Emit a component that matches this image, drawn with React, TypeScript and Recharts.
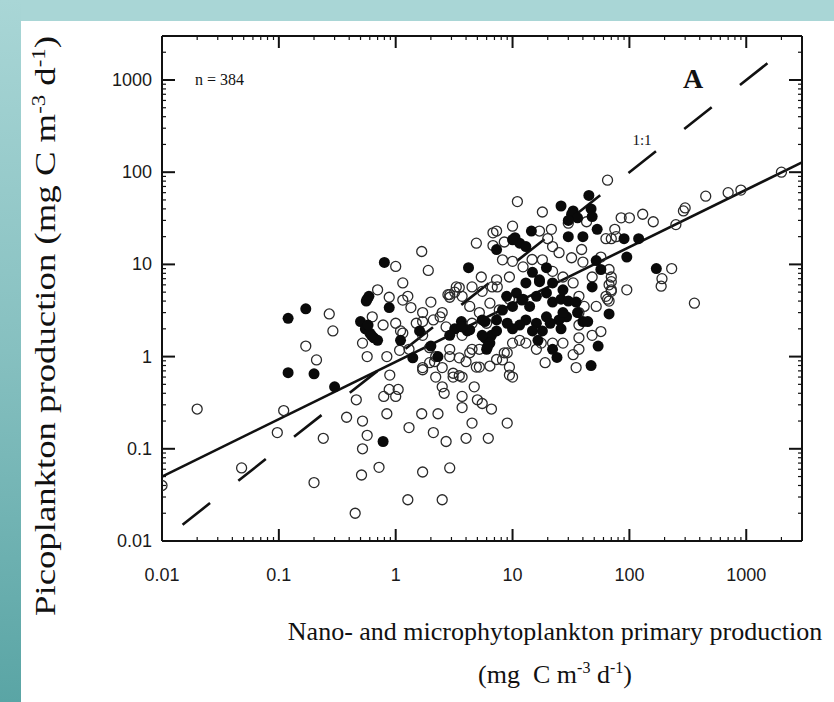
import React from 'react';
import { ScatterChart, Scatter, XAxis, YAxis, ReferenceLine } from 'recharts';

// ---- data ----
const majorTicks = [0.01, 0.1, 1, 10, 100, 1000];
const minorTicks = [
  0.02, 0.03, 0.04, 0.05, 0.06, 0.07, 0.08, 0.09,
  0.2, 0.3, 0.4, 0.5, 0.6, 0.7, 0.8, 0.9,
  2, 3, 4, 5, 6, 7, 8, 9,
  20, 30, 40, 50, 60, 70, 80, 90,
  200, 300, 400, 500, 600, 700, 800, 900,
  2000, 3000,
];
const axisDomain = [0.01, 3000];

// open circles: [nano+micro production, picoplankton production]
const openPoints: [number, number][] = [
  [0.01, 0.04], [0.02, 0.27], [0.048, 0.062], [0.097, 0.15], [0.11, 0.26], [0.17, 1.3], [0.21, 0.92],
  [0.2, 0.043], [0.24, 0.13], [0.27, 2.9], [0.29, 1.9], [0.45, 0.02], [0.46, 0.34], [0.38, 0.22],
  [0.52, 0.2], [0.57, 0.14], [0.52, 0.1], [0.51, 0.052], [0.72, 0.063], [0.84, 0.24], [0.88, 0.44],
  [1.05, 0.44], [0.79, 0.37], [0.89, 0.63], [1.3, 0.17], [1.67, 0.24], [2.3, 0.24], [2.1, 0.15],
  [2.7, 0.12], [1.7, 0.056], [2.9, 0.062], [1.27, 0.028], [2.5, 0.028], [0.7, 5.3], [1.15, 6.3],
  [1.67, 13.8], [1.9, 8.6], [1.0, 9.5], [1.15, 4.1], [1.35, 3.4], [2.0, 3.9], [2.8, 4.7], [0.63, 2.7],
  [0.78, 2.2], [1.15, 1.8], [1.7, 2.4], [2.4, 2.7], [0.52, 1.4], [0.57, 1.0], [0.84, 1.0], [1.08, 1.17],
  [1.95, 0.86], [2.2, 1.0], [2.5, 0.76], [1.7, 0.76], [2.2, 0.6], [2.5, 0.47], [2.6, 0.4], [3.1, 0.6],
  [1.0, 0.37], [4.0, 0.13], [4.7, 0.47], [3.7, 0.28], [4.5, 0.19], [5.5, 0.31], [5.2, 0.77], [3.5, 0.62],
  [3.5, 0.97], [4.3, 1.1], [5.2, 1.2], [2.9, 1.0], [2.9, 4.4], [3.2, 5.0], [3.5, 5.6], [5.4, 7.3],
  [65, 82], [11, 48], [18, 37], [43, 29], [85, 32], [100, 32], [130, 35], [160, 29], [300, 41], [290, 38],
  [360, 3.8], [230, 9], [190, 7], [187, 5.8], [95, 5.3], [67, 4], [57, 1.87], [35, 0.76], [33, 1.05],
  [19, 0.86], [70, 19], [75, 24], [21.5, 24], [17, 23], [10, 26], [7.3, 23], [4.9, 17], [6.8, 16],
  [8.5, 17.5], [7.3, 6.8], [9.4, 7.3], [10, 10.8], [14.7, 11.3], [18, 11.2], [25, 13.4], [22, 15.6],
  [32, 11.8], [39, 14.5], [40, 10.6], [57, 12], [48, 7.3], [67, 6.0], [70, 7.3], [67, 8.8], [70, 5.1],
  [0.88, 4.4], [1.27, 4.5], [1.7, 3.0], [2.5, 3.0], [1.5, 2.3], [2.1, 2.5], [2.7, 2.1], [1.1, 1.9],
  [1.7, 1.7], [1.95, 1.25], [1.3, 1.2], [2.9, 1.2], [2.15, 0.88], [1.7, 0.72], [3.1, 0.66], [4.5, 1.2],
  [4.0, 0.88], [4.9, 0.77], [6.4, 0.79], [8.2, 0.92], [8.5, 1.1], [9.4, 0.77], [11.5, 1.5], [13, 1.4],
  [16, 1.2], [3.7, 1.7], [4.3, 3.5], [5.2, 3.0], [6.4, 3.8], [7.7, 3.2], [5.5, 5.1], [4.5, 5.7],
  [3.7, 4.5], [3.3, 5.7], [2.9, 4.7], [7.4, 5.7], [9.4, 4.2], [12.3, 9.4], [22, 8.4], [27, 7.3],
  [33, 6.3], [37, 4.5], [41, 3.5], [52, 3.5], [63, 4.5], [27, 1.4], [37, 1.6], [37, 1.2], [48, 1.7],
  [22, 1.4], [17.6, 1.4], [10, 1.4], [6, 2.3], [4.5, 2.3], [1.0, 2.3], [70, 6.5], [70, 5.3], [65, 4.2],
  [37, 3.0], [37, 2.2], [9, 1.1], [7.3, 0.93], [9.4, 0.63], [10, 0.6], [3.7, 0.6], [3.7, 0.37], [5, 0.34],
  [6.6, 0.27], [9, 0.19], [6.2, 0.13], [450, 55], [700, 60], [900, 64], [2000, 100], [250, 27],
  [6.8, 22], [20, 19], [63, 19], [77, 20], [30, 28], [8.2, 11.2], [6.7, 5.7],
];

// filled circles
const filledPoints: [number, number][] = [
  [0.12, 2.6], [0.17, 3.3], [0.12, 0.67], [0.2, 0.65], [0.3, 0.47], [0.78, 0.12], [0.8, 10.5],
  [0.57, 4.2], [0.59, 4.5], [0.56, 4.0], [0.88, 3.4], [0.5, 2.4], [0.55, 2.0], [0.6, 1.8], [0.65, 1.6],
  [0.7, 1.5], [0.58, 2.2], [0.62, 1.7], [1.1, 1.5], [1.6, 1.9], [1.4, 0.97], [2.0, 1.3], [4.2, 9.2],
  [3.65, 2.4], [5.5, 2.5], [5.8, 1.6], [3.2, 2.0], [45, 56], [26, 43], [33, 38], [32, 35], [36, 32],
  [30, 30], [47, 40], [48, 33], [170, 9], [67, 2.9], [54, 1.3], [47, 0.8], [24, 0.98], [22, 1.2],
  [95, 12], [120, 19], [90, 19], [53, 24], [40, 20], [30, 20], [14.5, 23], [10.5, 19.5], [11.5, 17],
  [13, 15.6], [7.3, 14.5], [19.5, 9.2], [52, 11], [57, 8.8], [48, 5.7], [14.8, 8.2], [17, 6.5],
  [13, 6.3], [10.8, 4.9], [12.3, 4.2], [10, 3.5], [14, 3.5], [16, 4.5], [19.5, 4.9], [22, 3.9],
  [26, 4.2], [30, 4.0], [35, 3.9], [27, 5.3], [22, 6.3], [29, 2.7], [25, 2.5], [19.5, 2.7], [16, 2.3],
  [13, 2.5], [11.5, 2.2], [14.8, 1.9], [18, 1.9], [21, 2.3], [26, 2.0], [36, 3.0], [40, 2.4], [44, 2.4],
  [8.9, 4.5], [8.2, 3.2], [9, 2.3], [10, 2.0], [7.3, 2.5], [5.8, 2.4], [6.6, 1.7], [5.5, 1.7], [4.1, 1.9],
  [6.4, 1.4], [6.0, 1.2], [2.9, 1.7], [2.3, 1.0], [16.5, 1.5], [27, 3.0], [17, 6.8], [12, 4.1],
  [7.3, 1.9], [6.1, 1.28], [4.3, 1.95], [3.7, 2.1], [10, 18.5],
];

// regression line end points and the 1:1 line end points
const fitLine: [number, number][] = [[0.01, 0.05], [3000, 128]];
const oneToOne: [number, number][] = [[0.015, 0.015], [1800, 1800]];

const openData = openPoints.map(([x, y]) => ({ x, y }));
const filledData = filledPoints.map(([x, y]) => ({ x, y }));
const allTicks = [...majorTicks, ...minorTicks];
const isMajor = (v: number) => majorTicks.indexOf(v) >= 0;

const SANS = "'Liberation Sans', Arial, sans-serif";
const SERIF = "'Liberation Serif', 'Times New Roman', serif";
const INK = '#111';

const BottomTick = (props: any) => {
  const { x, y, payload } = props;
  const major = isMajor(payload.value);
  return (
    <g>
      <line x1={x} y1={y} x2={x} y2={y - (major ? 12 : 4)} stroke={INK} strokeWidth={major ? 2 : 1.2} />
      {major && (
        <text x={x} y={y + 40} textAnchor="middle" fontFamily={SANS} fontSize={18} fill="#1a1a1a">
          {String(payload.value)}
        </text>
      )}
    </g>
  );
};
const TopTick = (props: any) => {
  const { x, y, payload } = props;
  const major = isMajor(payload.value);
  return <line x1={x} y1={y} x2={x} y2={y + (major ? 12 : 4)} stroke={INK} strokeWidth={major ? 2 : 1.2} />;
};
const LeftTick = (props: any) => {
  const { x, y, payload } = props;
  const major = isMajor(payload.value);
  return (
    <g>
      <line x1={x} y1={y} x2={x + (major ? 13 : 4)} y2={y} stroke={INK} strokeWidth={major ? 2 : 1.2} />
      {major && (
        <text x={x - 10} y={y + 6} textAnchor="end" fontFamily={SANS} fontSize={18} fill="#1a1a1a">
          {String(payload.value)}
        </text>
      )}
    </g>
  );
};
const RightTick = (props: any) => {
  const { x, y, payload } = props;
  const major = isMajor(payload.value);
  return <line x1={x} y1={y} x2={x - (major ? 13 : 4)} y2={y} stroke={INK} strokeWidth={major ? 2 : 1.2} />;
};

const OpenDot = (p: any) => (
  <circle cx={p.cx} cy={p.cy} r={5} fill="none" stroke="#2a2a2a" strokeWidth={1.3} />
);
const FilledDot = (p: any) => <circle cx={p.cx} cy={p.cy} r={5.5} fill="#0a0a0a" />;

export default function App() {
  return (
    <div style={{ position: 'absolute', left: 0, top: 0, width: 834, height: 702, background: '#fff', overflow: 'hidden' }}>
      <div style={{ position: 'absolute', left: 0, top: 0, width: 834, height: 21, background: '#A9D6D6' }} />
      <div
        style={{
          position: 'absolute', left: 0, top: 0, width: 21, height: 702,
          background: 'linear-gradient(180deg, #A9D6D6 0%, #86C0C0 50%, #5AA5A5 100%)',
        }}
      />
      <div style={{ position: 'absolute', left: 0, top: 0 }}>
        <ScatterChart width={834} height={702} margin={{ top: 35, right: 31, bottom: 121, left: 102 }}>
          <XAxis
            xAxisId="b" dataKey="x" type="number" scale="log" domain={axisDomain} allowDataOverflow
            ticks={allTicks} interval={0} tickSize={0} tickMargin={0} tickLine={false}
            tick={<BottomTick />} height={40}
            axisLine={{ stroke: INK, strokeWidth: 2 }}
          />
          <XAxis
            xAxisId="t" orientation="top" dataKey="x" type="number" scale="log" domain={axisDomain} allowDataOverflow
            ticks={allTicks} interval={0} tickSize={0} tickMargin={0} tickLine={false}
            tick={<TopTick />} height={1}
            axisLine={{ stroke: INK, strokeWidth: 2 }}
          />
          <YAxis
            yAxisId="l" dataKey="y" type="number" scale="log" domain={axisDomain} allowDataOverflow
            ticks={allTicks} interval={0} tickSize={0} tickMargin={0} tickLine={false}
            tick={<LeftTick />} width={60}
            axisLine={{ stroke: INK, strokeWidth: 2 }}
          />
          <YAxis
            yAxisId="r" orientation="right" dataKey="y" type="number" scale="log" domain={axisDomain} allowDataOverflow
            ticks={allTicks} interval={0} tickSize={0} tickMargin={0} tickLine={false}
            tick={<RightTick />} width={1}
            axisLine={{ stroke: INK, strokeWidth: 2 }}
          />
          <ReferenceLine
            xAxisId="b" yAxisId="l"
            segment={[{ x: oneToOne[0][0], y: oneToOne[0][1] }, { x: oneToOne[1][0], y: oneToOne[1][1] }]}
            stroke={INK} strokeWidth={2.6} strokeDasharray="35 36" ifOverflow="visible"
          />
          <Scatter xAxisId="b" yAxisId="l" data={openData} shape={<OpenDot />} isAnimationActive={false} />
          <Scatter xAxisId="b" yAxisId="l" data={filledData} shape={<FilledDot />} isAnimationActive={false} />
          <ReferenceLine
            xAxisId="b" yAxisId="l"
            segment={[{ x: fitLine[0][0], y: fitLine[0][1] }, { x: fitLine[1][0], y: fitLine[1][1] }]}
            stroke={INK} strokeWidth={2.6} ifOverflow="visible"
          />
        </ScatterChart>
      </div>
      <svg width={834} height={702} style={{ position: 'absolute', left: 0, top: 0, pointerEvents: 'none' }}>
        <text x={195} y={85} fontFamily={SERIF} fontSize={16} fill={INK}>n = 384</text>
        <text x={693} y={88} textAnchor="middle" fontFamily={SERIF} fontSize={28} fontWeight="bold" fill={INK}>A</text>
        <text x={642} y={145} textAnchor="middle" fontFamily={SERIF} fontSize={15} fill={INK}>1:1</text>
        <text
          transform="translate(55, 326) rotate(-90)" textAnchor="middle" fontFamily={SERIF} fontSize={29} fill={INK}
          textLength={580} lengthAdjust="spacingAndGlyphs"
        >
          Picoplankton production (mg  C m<tspan dy={-10} fontSize={18}>-3</tspan><tspan dy={10}> d</tspan><tspan dy={-10} fontSize={18}>-1</tspan><tspan dy={10}>)</tspan>
        </text>
        <text x={555} y={640} textAnchor="middle" fontFamily={SERIF} fontSize={26} fill={INK}>
          Nano- and microphytoplankton primary production
        </text>
        <text x={555} y={683} textAnchor="middle" fontFamily={SERIF} fontSize={26} fill={INK} xmlSpace="preserve">
          (mg  C m<tspan dy={-10} fontSize={16}>-3</tspan><tspan dy={10}> d</tspan><tspan dy={-10} fontSize={16}>-1</tspan><tspan dy={10}>)</tspan>
        </text>
      </svg>
    </div>
  );
}
